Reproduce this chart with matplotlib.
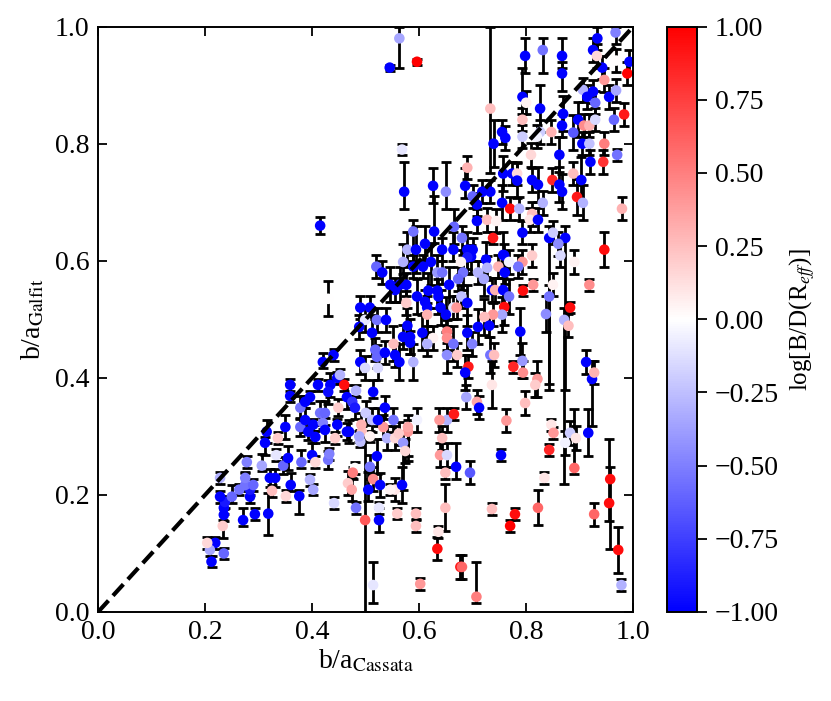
import numpy as np
import matplotlib
matplotlib.use("Agg")
import matplotlib.pyplot as plt
from matplotlib.ticker import FuncFormatter

plt.rcParams["font.family"] = ["Liberation Serif", "DejaVu Serif"]
plt.rcParams["mathtext.fontset"] = "stix"
plt.rcParams["font.size"] = 20

# axis ratios; err_lo / err_hi are the asymmetric galfit errors
ba_cassata = [
    0.212, 0.235, 0.219, 0.209, 0.204, 0.233, 0.235, 0.235, 0.237, 0.228,
    0.228, 0.250, 0.271, 0.293, 0.318, 0.284, 0.284, 0.275, 0.275, 0.290,
    0.264, 0.321, 0.331, 0.325, 0.351, 0.360, 0.376, 0.402, 0.396, 0.441,
    0.278, 0.306, 0.346, 0.333, 0.355, 0.380, 0.400, 0.406, 0.430, 0.432,
    0.315, 0.312, 0.336, 0.350, 0.378, 0.387, 0.393, 0.406, 0.402, 0.415,
    0.424, 0.420, 0.424, 0.447, 0.465, 0.469, 0.443, 0.449, 0.359, 0.359,
    0.378, 0.387, 0.396, 0.411, 0.434, 0.447, 0.430, 0.460, 0.482, 0.465,
    0.475, 0.480, 0.420, 0.440, 0.452, 0.415, 0.430, 0.514, 0.500, 0.512,
    0.493, 0.490, 0.533, 0.523, 0.536, 0.552, 0.540, 0.555, 0.521, 0.508,
    0.480, 0.476, 0.514, 0.527, 0.467, 0.474, 0.505, 0.555, 0.482, 0.525,
    0.499, 0.525, 0.559, 0.514, 0.568, 0.546, 0.594, 0.594, 0.602, 0.634,
    0.636, 0.649, 0.677, 0.669, 0.695, 0.639, 0.652, 0.649, 0.643, 0.652,
    0.665, 0.638, 0.579, 0.579, 0.596, 0.570, 0.574, 0.562, 0.492, 0.488,
    0.508, 0.572, 0.626, 0.650, 0.686, 0.718, 0.733, 0.700, 0.755, 0.708,
    0.589, 0.628, 0.665, 0.708, 0.727, 0.744, 0.738, 0.680, 0.611, 0.578,
    0.594, 0.643, 0.664, 0.690, 0.700, 0.697, 0.690, 0.570, 0.589, 0.607,
    0.622, 0.678, 0.725, 0.757, 0.748, 0.727, 0.520, 0.531, 0.634, 0.643,
    0.682, 0.673, 0.710, 0.721, 0.546, 0.564, 0.576, 0.555, 0.617, 0.634,
    0.656, 0.576, 0.596, 0.611, 0.615, 0.636, 0.679, 0.690, 0.664, 0.670,
    0.640, 0.650, 0.615, 0.736, 0.742, 0.757, 0.759, 0.755, 0.738, 0.722,
    0.710, 0.731, 0.490, 0.508, 0.499, 0.521, 0.538, 0.488, 0.512, 0.578,
    0.606, 0.570, 0.583, 0.583, 0.552, 0.626, 0.615, 0.652, 0.652, 0.664,
    0.690, 0.699, 0.518, 0.521, 0.536, 0.555, 0.563, 0.490, 0.589, 0.499,
    0.523, 0.652, 0.671, 0.733, 0.740, 0.692, 0.686, 0.798, 0.831, 0.867,
    0.867, 0.933, 0.967, 0.925, 0.932, 0.968, 0.993, 0.942, 0.989, 0.946,
    0.733, 0.793, 0.800, 0.826, 0.793, 0.906, 0.914, 0.925, 0.929, 0.955,
    0.968, 0.983, 0.964, 0.869, 0.867, 0.897, 0.908, 0.918, 0.929, 0.847,
    0.888, 0.826, 0.820, 0.793, 0.755, 0.761, 0.739, 0.905, 0.918, 0.946,
    0.809, 0.862, 0.920, 0.944, 0.970, 0.690, 0.757, 0.774, 0.783, 0.783,
    0.811, 0.822, 0.849, 0.862, 0.867, 0.888, 0.903, 0.895, 0.906, 0.979,
    0.770, 0.787, 0.831, 0.811, 0.807, 0.822, 0.793, 0.843, 0.850, 0.873,
    0.860, 0.946, 0.864, 0.890, 0.811, 0.793, 0.785, 0.759, 0.768, 0.794,
    0.813, 0.850, 0.843, 0.918, 0.768, 0.882, 0.871, 0.879, 0.789, 0.793,
    0.776, 0.794, 0.821, 0.817, 0.912, 0.923, 0.927, 0.736, 0.688, 0.798,
    0.708, 0.712, 0.837, 0.763, 0.847, 0.851, 0.882, 0.893, 0.916, 0.873,
    0.843, 0.753, 0.890, 0.834, 0.957, 0.955, 0.736, 0.779, 0.770, 0.822,
    0.927, 0.972, 0.978, 0.680, 0.707, 0.545, 0.563, 0.596, 0.568, 0.760,
]
ba_galfit = [
    0.086, 0.100, 0.118, 0.106, 0.118, 0.147, 0.166, 0.178, 0.188, 0.197,
    0.229, 0.197, 0.157, 0.167, 0.168, 0.197, 0.209, 0.217, 0.229, 0.217,
    0.209, 0.229, 0.229, 0.207, 0.198, 0.217, 0.198, 0.209, 0.226, 0.186,
    0.256, 0.250, 0.250, 0.268, 0.263, 0.256, 0.268, 0.256, 0.260, 0.270,
    0.308, 0.289, 0.297, 0.316, 0.316, 0.328, 0.308, 0.299, 0.320, 0.340,
    0.340, 0.323, 0.311, 0.320, 0.308, 0.308, 0.297, 0.349, 0.388, 0.369,
    0.349, 0.359, 0.367, 0.388, 0.388, 0.400, 0.376, 0.388, 0.378, 0.367,
    0.359, 0.349, 0.427, 0.439, 0.405, 0.660, 0.535, 0.376, 0.340, 0.328,
    0.308, 0.291, 0.316, 0.328, 0.349, 0.328, 0.297, 0.297, 0.266, 0.248,
    0.246, 0.238, 0.227, 0.217, 0.220, 0.209, 0.209, 0.209, 0.178, 0.178,
    0.157, 0.157, 0.168, 0.046, 0.217, 0.209, 0.168, 0.147, 0.048, 0.108,
    0.137, 0.178, 0.077, 0.248, 0.238, 0.268, 0.268, 0.238, 0.297, 0.328,
    0.338, 0.328, 0.308, 0.316, 0.328, 0.289, 0.275, 0.305, 0.320, 0.300,
    0.300, 0.718, 0.728, 0.718, 0.728, 0.718, 0.718, 0.710, 0.699, 0.696,
    0.650, 0.650, 0.658, 0.668, 0.670, 0.668, 0.639, 0.639, 0.629, 0.619,
    0.619, 0.619, 0.619, 0.619, 0.619, 0.607, 0.606, 0.598, 0.590, 0.590,
    0.598, 0.598, 0.602, 0.610, 0.590, 0.588, 0.590, 0.580, 0.580, 0.580,
    0.580, 0.569, 0.580, 0.569, 0.559, 0.559, 0.559, 0.550, 0.549, 0.549,
    0.559, 0.528, 0.539, 0.530, 0.520, 0.539, 0.539, 0.528, 0.520, 0.520,
    0.520, 0.508, 0.508, 0.550, 0.550, 0.550, 0.521, 0.508, 0.508, 0.504,
    0.487, 0.489, 0.520, 0.520, 0.499, 0.499, 0.499, 0.487, 0.477, 0.489,
    0.477, 0.470, 0.470, 0.460, 0.458, 0.468, 0.458, 0.479, 0.468, 0.458,
    0.477, 0.458, 0.448, 0.436, 0.443, 0.439, 0.427, 0.427, 0.427, 0.417,
    0.417, 0.439, 0.439, 0.439, 0.439, 0.419, 0.409, 0.950, 0.960, 0.950,
    0.920, 0.980, 0.990, 0.960, 0.950, 0.942, 0.940, 0.930, 0.920, 0.909,
    0.860, 0.880, 0.870, 0.860, 0.841, 0.892, 0.880, 0.889, 0.870, 0.880,
    0.891, 0.850, 0.841, 0.851, 0.831, 0.841, 0.831, 0.831, 0.841, 0.820,
    0.819, 0.820, 0.812, 0.812, 0.820, 0.810, 0.800, 0.800, 0.800, 0.800,
    0.781, 0.781, 0.769, 0.769, 0.781, 0.759, 0.749, 0.749, 0.749, 0.737,
    0.738, 0.730, 0.738, 0.730, 0.718, 0.749, 0.738, 0.709, 0.699, 0.689,
    0.689, 0.689, 0.699, 0.680, 0.670, 0.670, 0.648, 0.639, 0.648, 0.639,
    0.629, 0.619, 0.609, 0.598, 0.609, 0.598, 0.590, 0.609, 0.598, 0.549,
    0.559, 0.559, 0.539, 0.559, 0.539, 0.520, 0.499, 0.489, 0.479, 0.429,
    0.419, 0.409, 0.398, 0.388, 0.427, 0.398, 0.409, 0.388, 0.367, 0.357,
    0.359, 0.349, 0.509, 0.327, 0.320, 0.306, 0.306, 0.297, 0.306, 0.289,
    0.277, 0.268, 0.246, 0.229, 0.227, 0.186, 0.176, 0.167, 0.147, 0.178,
    0.167, 0.106, 0.046, 0.077, 0.026, 0.930, 0.980, 0.940, 0.790, 0.580,
]
err_lo = [
    0.01, 0.01, 0.01, 0.01, 0.01, 0.02, 0.01, 0.01, 0.01, 0.01,
    0.01, 0.01, 0.01, 0.01, 0.036, 0.01, 0.01, 0.01, 0.01, 0.01,
    0.01, 0.015, 0.015, 0.01, 0.01, 0.01, 0.03, 0.01, 0.01, 0.01,
    0.01, 0.01, 0.015, 0.01, 0.02, 0.01, 0.01, 0.01, 0.015, 0.01,
    0.02, 0.02, 0.01, 0.02, 0.015, 0.02, 0.015, 0.01, 0.01, 0.02,
    0.02, 0.01, 0.02, 0.02, 0.015, 0.02, 0.01, 0.015, 0.01, 0.01,
    0.02, 0.01, 0.01, 0.01, 0.02, 0.01, 0.02, 0.01, 0.01, 0.02,
    0.01, 0.02, 0.01, 0.01, 0.01, 0.015, 0.03, 0.01, 0.02, 0.02,
    0.01, 0.01, 0.02, 0.01, 0.02, 0.02, 0.02, 0.02, 0.03, 0.02,
    0.01, 0.01, 0.02, 0.02, 0.02, 0.02, 0.02, 0.02, 0.01, 0.01,
    0.157, 0.02, 0.01, 0.03, 0.03, 0.01, 0.01, 0.01, 0.01, 0.02,
    0.01, 0.04, 0.02, 0.02, 0.02, 0.02, 0.02, 0.01, 0.02, 0.02,
    0.01, 0.02, 0.05, 0.05, 0.02, 0.08, 0.02, 0.02, 0.02, 0.01,
    0.01, 0.03, 0.03, 0.03, 0.02, 0.02, 0.02, 0.02, 0.03, 0.02,
    0.05, 0.02, 0.03, 0.02, 0.02, 0.02, 0.01, 0.04, 0.03, 0.03,
    0.04, 0.02, 0.02, 0.04, 0.02, 0.03, 0.02, 0.02, 0.02, 0.02,
    0.04, 0.02, 0.03, 0.04, 0.02, 0.02, 0.02, 0.02, 0.03, 0.02,
    0.03, 0.02, 0.02, 0.03, 0.03, 0.03, 0.02, 0.02, 0.03, 0.03,
    0.04, 0.02, 0.03, 0.02, 0.05, 0.03, 0.02, 0.04, 0.02, 0.02,
    0.03, 0.03, 0.02, 0.02, 0.02, 0.04, 0.03, 0.03, 0.02, 0.03,
    0.03, 0.02, 0.02, 0.02, 0.02, 0.02, 0.02, 0.02, 0.04, 0.03,
    0.03, 0.02, 0.03, 0.02, 0.03, 0.02, 0.02, 0.02, 0.02, 0.03,
    0.03, 0.02, 0.02, 0.02, 0.02, 0.02, 0.03, 0.02, 0.03, 0.02,
    0.02, 0.03, 0.02, 0.03, 0.02, 0.02, 0.03, 0.03, 0.04, 0.02,
    0.03, 0.02, 0.02, 0.02, 0.02, 0.02, 0.02, 0.02, 0.02, 0.02,
    0.11, 0.03, 0.02, 0.04, 0.02, 0.02, 0.02, 0.02, 0.02, 0.02,
    0.02, 0.02, 0.02, 0.03, 0.02, 0.03, 0.02, 0.02, 0.02, 0.02,
    0.03, 0.02, 0.02, 0.02, 0.02, 0.02, 0.04, 0.02, 0.02, 0.02,
    0.02, 0.03, 0.02, 0.02, 0.01, 0.02, 0.03, 0.02, 0.02, 0.03,
    0.02, 0.03, 0.02, 0.03, 0.03, 0.02, 0.04, 0.03, 0.03, 0.02,
    0.02, 0.02, 0.02, 0.02, 0.02, 0.02, 0.02, 0.26, 0.02, 0.26,
    0.02, 0.03, 0.02, 0.02, 0.02, 0.02, 0.02, 0.02, 0.02, 0.01,
    0.01, 0.02, 0.15, 0.01, 0.03, 0.01, 0.28, 0.02, 0.04, 0.03,
    0.01, 0.01, 0.03, 0.02, 0.02, 0.08, 0.02, 0.04, 0.02, 0.02,
    0.02, 0.02, 0.03, 0.02, 0.01, 0.01, 0.02, 0.02, 0.04, 0.02,
    0.01, 0.01, 0.01, 0.01, 0.12, 0.03, 0.01, 0.01, 0.01, 0.03,
    0.02, 0.04, 0.01, 0.02, 0.01, 0.005, 0.05, 0.005, 0.01, 0.02,
]
err_hi = [
    0.01, 0.01, 0.01, 0.01, 0.01, 0.01, 0.01, 0.01, 0.01, 0.01,
    0.01, 0.02, 0.02, 0.01, 0.036, 0.02, 0.01, 0.02, 0.01, 0.01,
    0.01, 0.015, 0.015, 0.01, 0.01, 0.02, 0.01, 0.01, 0.01, 0.01,
    0.01, 0.02, 0.015, 0.01, 0.02, 0.02, 0.02, 0.01, 0.015, 0.01,
    0.02, 0.01, 0.01, 0.02, 0.015, 0.02, 0.02, 0.01, 0.01, 0.02,
    0.02, 0.01, 0.02, 0.01, 0.015, 0.02, 0.01, 0.015, 0.01, 0.02,
    0.02, 0.01, 0.01, 0.01, 0.02, 0.01, 0.02, 0.01, 0.01, 0.02,
    0.01, 0.02, 0.015, 0.01, 0.01, 0.015, 0.03, 0.02, 0.02, 0.02,
    0.01, 0.02, 0.02, 0.02, 0.02, 0.02, 0.02, 0.02, 0.03, 0.02,
    0.01, 0.01, 0.02, 0.02, 0.02, 0.02, 0.03, 0.02, 0.01, 0.01,
    0.15, 0.02, 0.01, 0.04, 0.03, 0.01, 0.01, 0.01, 0.01, 0.02,
    0.01, 0.04, 0.02, 0.04, 0.02, 0.02, 0.02, 0.01, 0.02, 0.02,
    0.01, 0.02, 0.02, 0.02, 0.02, 0.02, 0.02, 0.02, 0.02, 0.01,
    0.01, 0.05, 0.03, 0.05, 0.03, 0.02, 0.02, 0.02, 0.03, 0.02,
    0.02, 0.06, 0.03, 0.02, 0.02, 0.02, 0.01, 0.02, 0.03, 0.03,
    0.04, 0.02, 0.03, 0.03, 0.02, 0.02, 0.02, 0.03, 0.02, 0.02,
    0.03, 0.02, 0.03, 0.04, 0.02, 0.02, 0.02, 0.02, 0.03, 0.02,
    0.03, 0.02, 0.02, 0.03, 0.03, 0.03, 0.02, 0.02, 0.03, 0.03,
    0.03, 0.02, 0.03, 0.02, 0.02, 0.03, 0.02, 0.03, 0.02, 0.02,
    0.03, 0.03, 0.02, 0.02, 0.02, 0.04, 0.03, 0.03, 0.02, 0.03,
    0.03, 0.02, 0.02, 0.02, 0.02, 0.02, 0.02, 0.02, 0.03, 0.03,
    0.03, 0.02, 0.03, 0.02, 0.03, 0.02, 0.02, 0.02, 0.02, 0.03,
    0.03, 0.02, 0.02, 0.02, 0.02, 0.02, 0.03, 0.02, 0.03, 0.02,
    0.02, 0.03, 0.02, 0.03, 0.02, 0.02, 0.03, 0.03, 0.02, 0.03,
    0.02, 0.02, 0.01, 0.02, 0.02, 0.02, 0.02, 0.02, 0.02, 0.02,
    0.14, 0.05, 0.02, 0.04, 0.02, 0.02, 0.02, 0.02, 0.02, 0.02,
    0.02, 0.02, 0.02, 0.03, 0.02, 0.03, 0.02, 0.02, 0.02, 0.02,
    0.03, 0.02, 0.02, 0.02, 0.02, 0.02, 0.04, 0.02, 0.02, 0.02,
    0.02, 0.03, 0.02, 0.02, 0.01, 0.02, 0.03, 0.02, 0.02, 0.03,
    0.02, 0.03, 0.02, 0.03, 0.03, 0.02, 0.04, 0.03, 0.03, 0.02,
    0.02, 0.02, 0.02, 0.02, 0.02, 0.02, 0.02, 0.02, 0.02, 0.02,
    0.02, 0.03, 0.02, 0.02, 0.02, 0.02, 0.02, 0.02, 0.02, 0.01,
    0.01, 0.02, 0.02, 0.01, 0.03, 0.01, 0.02, 0.02, 0.04, 0.03,
    0.01, 0.02, 0.03, 0.02, 0.02, 0.03, 0.02, 0.04, 0.02, 0.02,
    0.02, 0.02, 0.03, 0.02, 0.01, 0.01, 0.02, 0.02, 0.04, 0.02,
    0.01, 0.01, 0.10, 0.01, 0.02, 0.11, 0.01, 0.01, 0.01, 0.03,
    0.02, 0.04, 0.01, 0.02, 0.06, 0.005, 0.02, 0.005, 0.01, 0.02,
]
log_bd = [
    -1.0, -0.6, -1.0, -0.35, 0.15, 0.2, -1.0, -1.0, -0.9, -1.0,
    -0.3, -0.6, -1.0, -1.0, -1.0, -1.0, -0.9, -0.55, -0.5, -0.6,
    -0.55, -1.0, -1.0, 0.25, 0.15, -1.0, -1.0, -0.35, -0.3, -0.15,
    -0.5, -0.35, -0.6, -0.1, -1.0, -0.6, -1.0, 0.15, -0.55, -0.5,
    -1.0, -1.0, 0.2, -1.0, -0.6, -1.0, -1.0, -1.0, -1.0, -0.55,
    -0.6, -0.5, -1.0, -1.0, -1.0, -1.0, 0.2, 0.2, -1.0, -1.0,
    -0.55, -1.0, -1.0, -1.0, -1.0, -1.0, -0.95, 0.95, -0.3, -1.0,
    -0.8, -0.9, -1.0, -1.0, -0.3, -1.0, 0.0, -1.0, -0.2, -0.25,
    0.25, -0.25, 0.4, -1.0, -1.0, -0.55, -0.3, 0.15, -1.0, -0.55,
    0.0, 0.5, 0.45, -1.0, 0.2, 0.35, -1.0, 0.1, -0.55, -0.1,
    0.65, -1.0, 0.2, -0.1, -1.0, 0.05, 0.25, 0.25, 0.4, 0.95,
    0.1, 0.25, 0.9, -1.0, -0.65, 0.4, -0.15, 0.25, 0.25, -0.3,
    0.9, 0.4, 0.4, 0.35, -0.05, -0.4, 0.15, 0.2, 0.3, -0.35,
    0.05, -1.0, -1.0, -0.45, -1.0, -1.0, -1.0, -0.6, -1.0, -1.0,
    -0.55, -1.0, -0.6, -1.0, 0.25, 0.05, 0.9, -0.55, -1.0, -0.3,
    -1.0, -1.0, -1.0, -1.0, -1.0, -1.0, -0.9, -0.3, -1.0, -1.0,
    -1.0, 0.05, -1.0, -1.0, 0.3, -0.3, -0.6, -1.0, -0.4, -0.55,
    -0.55, -0.6, -0.3, -0.35, -1.0, -1.0, -1.0, -1.0, -1.0, -1.0,
    -1.0, 0.2, -1.0, -1.0, -1.0, -1.0, -0.25, -1.0, -0.1, 0.4,
    -1.0, -1.0, 0.3, -1.0, 0.3, -1.0, 0.95, -0.35, 0.4, 0.25,
    -1.0, -1.0, -1.0, -1.0, -0.1, -0.55, -1.0, -1.0, -1.0, -1.0,
    -1.0, -1.0, -1.0, -1.0, 0.25, 0.05, -0.3, 0.5, 0.45, -0.55,
    -1.0, -0.5, -0.6, -0.6, -1.0, -1.0, -1.0, -1.0, -0.3, -0.15,
    -0.15, -0.45, 0.2, -0.55, 0.25, 0.9, -1.0, -1.0, -0.55, -1.0,
    -1.0, -1.0, -0.5, -1.0, 0.15, 0.0, -1.0, -1.0, 1.0, 0.4,
    0.25, -1.0, 0.05, -1.0, 0.25, -0.3, -1.0, -1.0, -0.6, -1.0,
    -0.35, 0.9, -0.6, -1.0, -1.0, -1.0, 0.45, 0.3, -0.15, 0.3,
    -0.65, -0.2, -0.05, -0.2, -1.0, -1.0, -1.0, -1.0, -0.25, 0.5,
    0.15, -1.0, -1.0, 0.8, -0.55, 0.3, -1.0, -1.0, 0.15, -1.0,
    -1.0, -1.0, 0.85, -1.0, -1.0, 0.25, -1.0, 0.9, -0.3, 0.3,
    0.95, -0.3, -0.3, 0.25, 0.1, -1.0, -1.0, -1.0, -0.2, -1.0,
    -0.45, 0.95, -0.15, 0.05, 0.2, 0.4, -0.55, -1.0, -0.05, 0.95,
    0.4, 0.05, -0.55, 0.45, -0.55, 0.95, -0.3, 0.25, -1.0, -0.4,
    0.85, 0.45, 0.4, 0.2, -1.0, -1.0, 0.3, 0.1, -0.35, 0.25,
    0.35, -1.0, -0.45, 0.4, 0.1, 0.4, -0.2, 0.1, -1.0, -0.05,
    0.85, -1.0, 0.6, 0.1, 0.95, 0.95, 0.25, 0.95, 1.0, 0.6,
    0.6, 0.95, -0.3, 0.6, 0.5, -1.0, -0.35, 1.0, -0.1, -1.0,
]

x = np.array(ba_cassata)
y = np.array(ba_galfit)
yerr = np.vstack([err_lo, err_hi])

fig = plt.figure(figsize=(8.31, 7.01), dpi=100)
ax = fig.add_axes([0.118, 0.127, 0.644, 0.835])
cax = fig.add_axes([0.8026, 0.127, 0.036, 0.835])

ax.errorbar(x, y, yerr=yerr, fmt="none", ecolor="k", elinewidth=2,
            capsize=3.5, capthick=2, zorder=1)
sc = ax.scatter(x, y, c=log_bd, cmap="bwr", vmin=-1, vmax=1, s=58,
                edgecolors="none", zorder=2)
ax.plot([0, 1], [0, 1], "k--", lw=3, zorder=3)

ticks = np.arange(0, 1.01, 0.2)
ax.set_xlim(0, 1)
ax.set_ylim(0, 1)
ax.set_xticks(ticks)
ax.set_yticks(ticks)
ax.set_xticklabels([f"{v:.1f}" for v in ticks])
ax.set_yticklabels([f"{v:.1f}" for v in ticks])
ax.tick_params(direction="in", top=True, right=True, length=6.5, width=1.3,
               labelsize=20, pad=6)
for s in ax.spines.values():
    s.set_linewidth(1.4)
ax.set_xlabel(r"b/a$_{\rm Cassata}$", fontsize=20, labelpad=2)
ax.set_ylabel(r"b/a$_{\rm Galfit}$", fontsize=20, labelpad=6)

cb = fig.colorbar(sc, cax=cax, ticks=np.arange(-1, 1.01, 0.25),
                  format=FuncFormatter(lambda v, p: f"{v:.2f}".replace("-", "\u2212")))
cb.ax.tick_params(direction="out", length=7, width=1.3, labelsize=20, pad=6)
cb.outline.set_linewidth(1.4)
cb.set_label(r"log[B/D(R$_{eff}$)]", fontsize=18, labelpad=6)

fig.savefig("out.png", dpi=100)
